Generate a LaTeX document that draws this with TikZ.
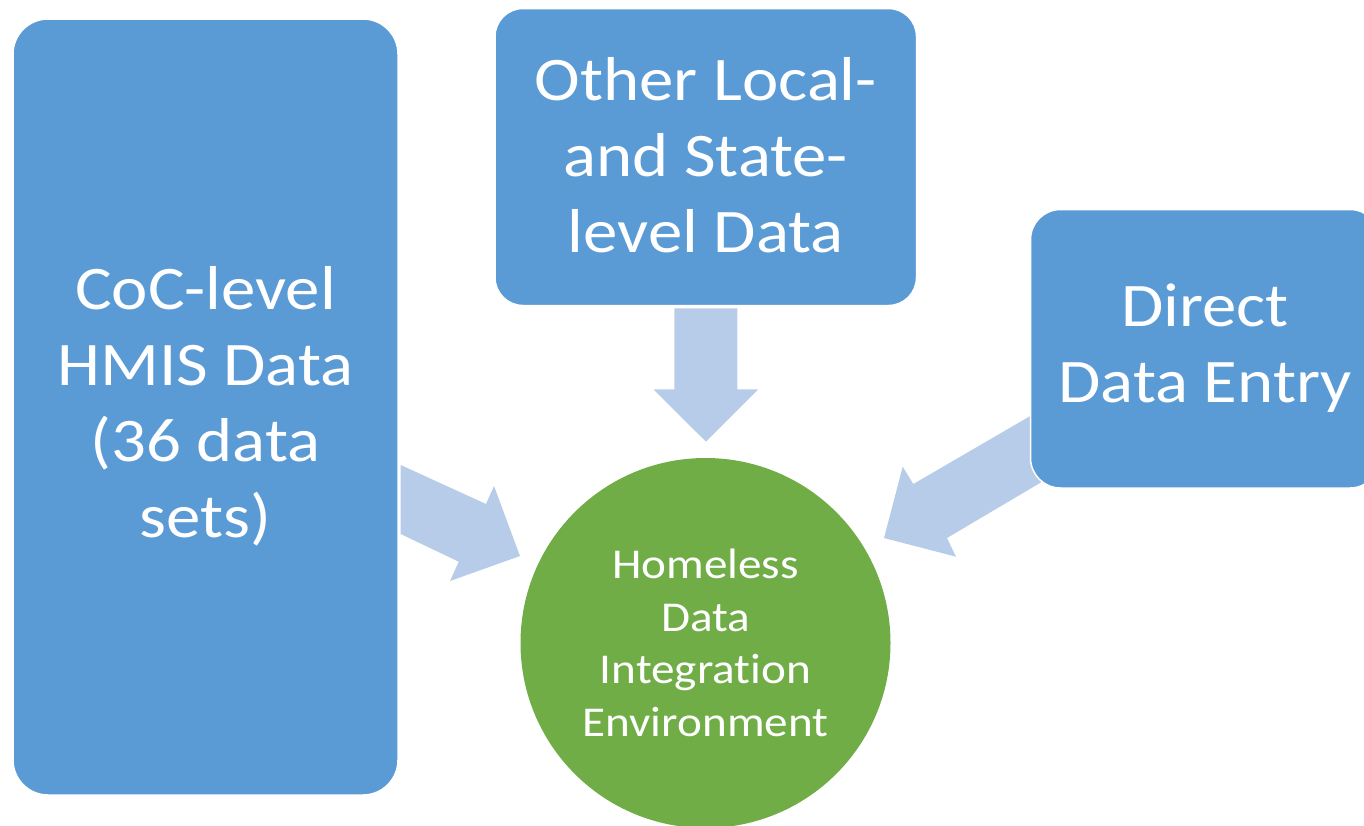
\documentclass[tikz,border=0pt]{standalone}
\usepackage{fontspec}
\setmainfont[Ligatures=NoCommon,FakeStretch=1.11]{Carlito}
\definecolor{boxblue}{HTML}{5B9BD5}
\definecolor{circgreen}{HTML}{70AD47}
\definecolor{arrowblue}{HTML}{B7CCE8}
\tikzset{
  srcbox/.style={fill=boxblue,draw=white,line width=1.5pt},
  srctext/.style={text=white,align=center,font=\fontsize{62}{76}\selectfont},
  blockarrow/.style={fill=arrowblue,draw=none},
  hub/.style={circle,fill=circgreen,draw=none,text=white,align=center,
    font=\fontsize{42.5}{52.7}\selectfont,minimum size=370pt,inner sep=0pt}
}
\begin{document}
\begin{tikzpicture}[x=1pt,y=-1pt]
\useasboundingbox (0,0) rectangle (1364,825);
% arrows (behind boxes)
\fill[blockarrow] (400.7,465) -- (486,504) -- (494,486) -- (520,556) -- (450,581) -- (458.7,561.7) -- (400.7,534) -- cycle;
\fill[blockarrow] (1045,407.4) -- (913.3,484) -- (902.7,466.7) -- (884,538) -- (956,556.7) -- (947,538) -- (1045,480) -- cycle;
\fill[blockarrow] (674.3,308.3) -- (737.3,308.3) -- (737.3,389.3) -- (758.3,389.3) -- (706,441.7) -- (653.3,389.3) -- (674.3,389.3) -- cycle;
% boxes
\draw[srcbox,rounded corners=35pt] (13,19) rectangle (398,795);
\node[srctext] (coc) at (205.5,406) {CoC-level\\HMIS Data\\(36 data\\sets)};
\draw[srcbox,rounded corners=28pt] (495,8.5) rectangle (916.5,305.5);
\node[srctext] (other) at (705.75,155.5) {Other Local-\\and State-\\level Data};
\draw[srcbox,rounded corners=30pt] (1030.5,209.5) rectangle (1380,488);
\node[srctext] (direct) at (1205,348) {Direct\\Data Entry};
% hub
\node[hub] (hde) at (705.5,643) {Homeless\\Data\\Integration\\Environment};
\end{tikzpicture}
\end{document}
